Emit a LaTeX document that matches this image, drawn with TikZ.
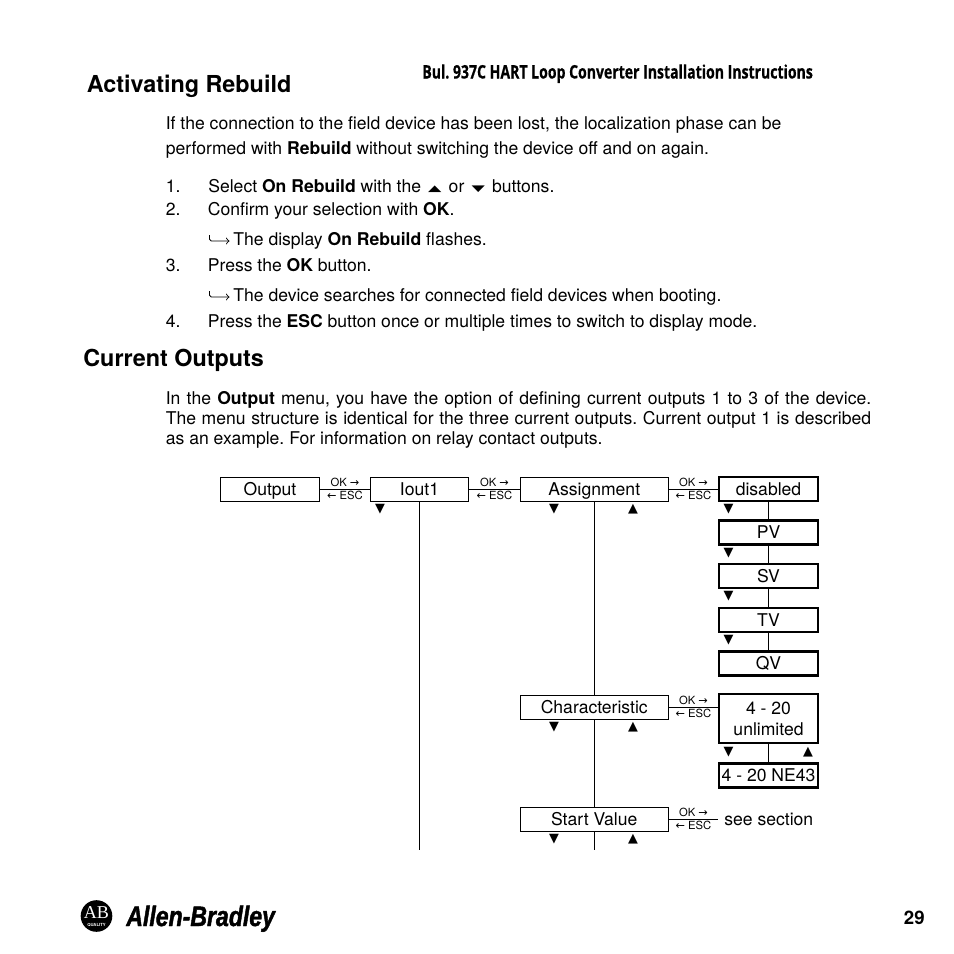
\documentclass[tikz,border=0pt]{standalone}
\usepackage{graphicx}
\usepackage{fontspec}
\setmainfont{TeX Gyre Heros}
\newfontfamily\symfont{DejaVu Sans}
\newfontfamily\headfont[BoldFeatures={FakeStretch=0.755,FakeBold=0.5}]{Open Sans}
\newfontfamily\brandfont[BoldItalicFeatures={FakeStretch=0.82,FakeBold=1.5}]{Liberation Sans}
\newfontfamily\sealfont{Liberation Serif}
\tikzset{
  body/.style={anchor=base west, inner sep=0pt, font=\fontsize{10}{12}\selectfont},
  heading/.style={anchor=base west, inner sep=0pt, font=\fontsize{13.3}{16}\selectfont\bfseries},
  menubox/.style={draw, line width=0.55pt, minimum height=13.6pt, inner sep=0pt, text height=7pt, text depth=0pt, font=\fontsize{10}{12}\selectfont},
  choicebox/.style={draw, line width=1.4pt, minimum width=56.1pt, minimum height=13.6pt, inner sep=0pt, align=center, font=\fontsize{10}{12}\selectfont},
  choiceline/.style={choicebox, text height=7pt, text depth=0pt},
  keylabel/.style={inner sep=0pt, font=\fontsize{6.4}{7}\selectfont},
  tri/.style={inner sep=0pt, font=\symfont\fontsize{7.3}{8}\selectfont},
  link/.style={line width=0.55pt},
  hookline/.style={line width=0.5pt, rounded corners=1pt, ->, >=to}
}
\newcommand{\btnmark}[1]{\hspace{1.3pt}\scalebox{1.8}[0.9]{\symfont\fontsize{5.5}{6}\selectfont\raisebox{0.6pt}{#1}}\hspace{1.3pt}}
\begin{document}
\frenchspacing
\begin{tikzpicture}[x=0.02cm, y=-0.02cm]
  \useasboundingbox (0,0) rectangle (954,954);

  \node[anchor=base west, inner sep=0pt, font=\headfont\fontsize{10.6}{12}\selectfont\bfseries] (title) at (422,78.5) {Bul. 937C HART Loop Converter Installation Instructions};
  \node[heading] (rebuild) at (86.5,92) {Activating Rebuild};
  \node[body] (introa) at (165.5,129) {If the connection to the field device has been lost, the localization phase can be};
  \node[body] (introb) at (165.5,154) {performed with \textbf{Rebuild} without switching the device off and on again.};
  \node[body] (numa) at (165.5,192) {1.};
  \node[body] (stepa) at (208,192) {Select \textbf{On Rebuild} with the \btnmark{▲} or \btnmark{▼} buttons.};
  \node[body] (numb) at (165.5,215) {2.};
  \node[body] (stepb) at (207.5,215) {Confirm your selection with \textbf{OK}.};
  \node[body] (resa) at (233,245) {The display \textbf{On Rebuild} flashes.};
  \node[body] (numc) at (165.5,271) {3.};
  \node[body] (stepc) at (207.5,271) {Press the \textbf{OK} button.};
  \node[body] (resb) at (233,301) {The device searches for connected field devices when booting.};
  \node[body] (numd) at (165.5,327) {4.};
  \node[body] (stepd) at (207.5,327) {Press the \textbf{ESC} button once or multiple times to switch to display mode.};
  \draw[hookline] (resa.base west) ++(-23.5,-10) -- ++(0,6) -- ++(20,0);
  \draw[hookline] (resb.base west) ++(-23.5,-10) -- ++(0,6) -- ++(20,0);

  \node[heading] (outputs) at (83,366) {Current Outputs};
  \node[body] (para) at (165.5,404) {\makebox[14.11cm][s]{In the \textbf{Output} menu, you have the option of defining current outputs 1 to 3 of the device.}};
  \node[body] (parb) at (165.5,424) {\makebox[14.11cm][s]{The menu structure is identical for the three current outputs. Current output 1 is described}};
  \node[body] (parc) at (165.5,444) {as an example. For information on relay contact outputs.};

  \node[menubox, minimum width=56.7pt] (output) at (270,489.5) {Output};
  \node[menubox, minimum width=56.1pt] (iout) at (419.5,489.5) {Iout1};
  \node[menubox, minimum width=84.5pt] (assign) at (594.25,489.5) {Assignment};
  \node[choiceline] (disabled) at (768.5,489) {disabled};
  \node[choiceline] (pv) at (768.5,532.5) {PV};
  \node[choiceline] (sv) at (768.5,576) {SV};
  \node[choiceline] (tv) at (768.5,620) {TV};
  \node[choiceline] (qv) at (768.5,663.5) {QV};
  \node[menubox, minimum width=84.5pt] (charact) at (594.25,707.5) {Characteristic};
  \node[choicebox, minimum height=27.6pt] (unlimited) at (768.5,718.5) {4 - 20\\unlimited};
  \node[choiceline] (nefour) at (768.5,775.5) {4 - 20 NE43};
  \node[menubox, minimum width=84.5pt] (start) at (594.25,819.5) {Start Value};
  \node[body, anchor=base west] (section) at (724,825) {see section};

  \coordinate (ioutend) at (419.5,850);
  \coordinate (startend) at (594.25,850);
  \coordinate (sectionend) at (718,819.5);

  \draw[link] (output) -- (iout);
  \draw[link] (iout) -- (assign);
  \draw[link] (assign) -- (assign -| disabled.west);
  \draw[link] (charact) -- (charact -| unlimited.west);
  \draw[link] (start) -- (sectionend);
  \draw[link] (iout) -- (ioutend);
  \draw[link] (assign) -- (charact);
  \draw[link] (charact) -- (start);
  \draw[link] (start) -- (startend);
  \draw[link] (disabled) -- (pv);
  \draw[link] (pv) -- (sv);
  \draw[link] (sv) -- (tv);
  \draw[link] (tv) -- (qv);
  \draw[link] (unlimited) -- (nefour);

  \node[keylabel] (oka) at (345,482) {OK {\symfont→}};
  \node[keylabel] (esca) at (345,495.5) {{\symfont←} ESC};
  \node[keylabel] (okb) at (494.5,482) {OK {\symfont→}};
  \node[keylabel] (escb) at (494.5,495.5) {{\symfont←} ESC};
  \node[keylabel] (okc) at (693.5,482) {OK {\symfont→}};
  \node[keylabel] (escc) at (693.5,495.5) {{\symfont←} ESC};
  \node[keylabel] (okd) at (693.5,700) {OK {\symfont→}};
  \node[keylabel] (escd) at (693.5,713.5) {{\symfont←} ESC};
  \node[keylabel] (oke) at (693.5,812) {OK {\symfont→}};
  \node[keylabel] (esce) at (693.5,825.5) {{\symfont←} ESC};

  \node[tri] (dna) at (380,509.5) {▼};
  \node[tri] (dnb) at (554,509.5) {▼};
  \node[tri] (upb) at (633,509.5) {▲};
  \node[tri] (dnc) at (728.5,509.5) {▼};
  \node[tri] (dnd) at (728.5,553.5) {▼};
  \node[tri] (dne) at (728.5,596.5) {▼};
  \node[tri] (dnf) at (728.5,640.5) {▼};
  \node[tri] (dng) at (554,727.5) {▼};
  \node[tri] (upg) at (633,727.5) {▲};
  \node[tri] (dnh) at (728.5,752.5) {▼};
  \node[tri] (uph) at (808,752.5) {▲};
  \node[tri] (dni) at (554,839.5) {▼};
  \node[tri] (upi) at (633,839.5) {▲};

  \node[circle, fill=black, minimum size=18pt, inner sep=0pt] (seal) at (96.5,916) {};
  \node[text=white, inner sep=0pt, font=\sealfont\fontsize{10.3}{11}\selectfont] (sealab) at (96.5,913) {AB};
  \node[text=white, inner sep=0pt, font=\fontsize{2.4}{3}\selectfont\bfseries] (sealq) at (96.5,925.5) {QUALITY};
  \node[anchor=base west, inner sep=0pt, font=\brandfont\fontsize{16}{18}\selectfont\bfseries\itshape] (brand) at (126,926) {Allen-Bradley};
  \node[anchor=base east, inner sep=0pt, font=\fontsize{10.6}{12}\selectfont\bfseries] (page) at (925,924) {29};
\end{tikzpicture}
\end{document}
